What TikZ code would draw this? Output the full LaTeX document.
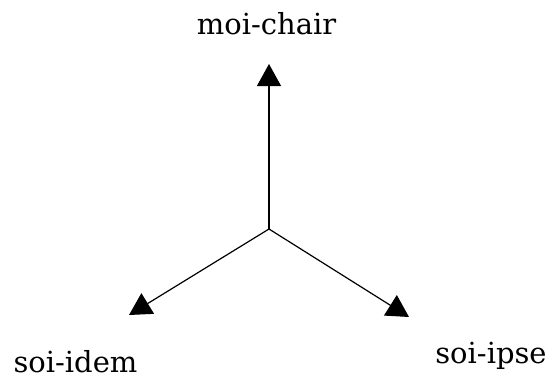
\documentclass[tikz,border=0pt]{standalone}
\usepackage{fontspec}
\setmainfont{DejaVu Serif}
\usetikzlibrary{arrows.meta}
\tikzset{
  lbl/.style={inner sep=0pt, anchor=base, font=\fontsize{29pt}{32pt}\selectfont},
  arr/.style={line width=1.2pt, -{Triangle[width=24pt,length=22pt]}}
}
\begin{document}
\begin{tikzpicture}[x=1pt,y=-1pt]
\useasboundingbox (0,0) rectangle (558,383);
\coordinate (c) at (269,229);
\coordinate (up) at (269,64);
\coordinate (lt) at (129,315);
\coordinate (rt) at (409,317);
\node[lbl] (moi) at (266.5,34) {moi-chair};
\node[lbl] (idem) at (75.5,372) {soi-idem};
\node[lbl] (ipse) at (491,363) {soi-ipse};
\draw[arr] (c) -- (up);
\draw[arr] (c) -- (lt);
\draw[arr] (c) -- (rt);
\end{tikzpicture}
\end{document}
